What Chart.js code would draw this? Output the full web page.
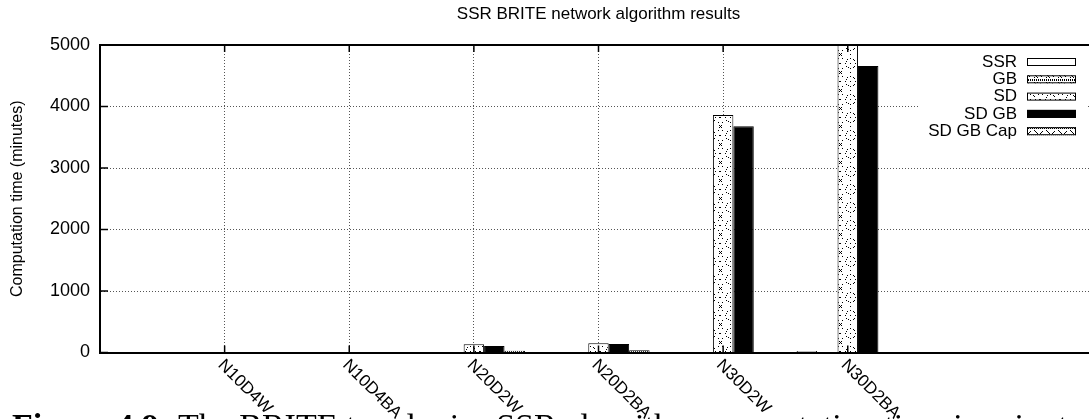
<!DOCTYPE html>
<html>
<head>
<meta charset="utf-8">
<script src="https://cdn.jsdelivr.net/npm/chart.js@4"></script>
<style>
  body { margin: 0; overflow: hidden; background: #fff; width: 1089px; height: 419px; }
  #wrap { position: relative; width: 1100px; height: 419px; }
  #caption {
    position: absolute; left: 12px; top: 409px;
    font-family: "Liberation Serif", serif; font-size: 34px; line-height: 1;
    white-space: nowrap; color: #000;
  }
</style>
</head>
<body>
<div id="wrap">
  <canvas id="graficoBrite" width="1100" height="419"></canvas>
  <div id="caption"><b>Figure 4.9:</b> The BRITE topologies SSR algorithm computation time in minutes.</div>
</div>
<script>
const titulo = "SSR BRITE network algorithm results";
const tituloY = "Computation time (minutes)";
const categorias = ["N10D4W", "N10D4BA", "N20D2W", "N20D2BA", "N30D2W", "N30D2BA"];
const nomesSeries = ["SSR", "GB", "SD", "SD GB", "SD GB Cap"];

const ssr = [0, 0, 0, 0, 0, 25];
const gb = [0, 0, 0, 0, 0, 0];
const sd = [0, 0, 135, 150, 3860, 5000];
const sdGb = [0, 0, 105, 140, 3680, 4660];
const sdGbCap = [0, 0, 30, 35, 0, 0];

const ticksY = [0, 1000, 2000, 3000, 4000, 5000];

// padrões de preenchimento no estilo do gnuplot
function criarPadrao(tipo) {
  if (tipo === "solido") return "#000";
  if (tipo === "branco") return "#fff";
  const c = document.createElement("canvas");
  const g = c.getContext("2d");
  let pontos = [];
  if (tipo === "gb") {
    c.width = 12; c.height = 8;
    for (let i = 0; i < 6; i++) { pontos.push([i * 2, 0]); pontos.push([i * 2, 7]); }
    pontos.push([2, 2], [3, 3], [4, 4], [5, 5], [5, 2], [2, 5], [8, 3], [9, 4]);
  } else if (tipo === "sd") {
    c.width = 20; c.height = 18;
    for (let k = 0; k < 12; k++) {
      const ang = (k / 12) * Math.PI * 2;
      pontos.push([Math.round(10 + 5 * Math.cos(ang)), Math.round(9 + 5 * Math.sin(ang))]);
    }
    pontos.push([10, 9], [0, 0], [1, 1], [19, 1], [1, 17], [19, 17], [0, 9], [19, 9], [10, 0], [2, 4], [18, 4], [2, 14], [18, 14]);
  } else if (tipo === "cap") {
    c.width = 12; c.height = 8;
    for (let i = 0; i < 6; i++) { pontos.push([i * 2, 0]); pontos.push([i * 2 + 1, 7]); }
    pontos.push([2, 2], [3, 3], [4, 4], [5, 5], [8, 5], [9, 4], [10, 3]);
  }
  g.fillStyle = "#fff";
  g.fillRect(0, 0, c.width, c.height);
  g.fillStyle = "#000";
  pontos.forEach(([px, py]) => g.fillRect(px, py, 1, 1));
  return g.createPattern(c, "repeat");
}

const preenchimentos = [criarPadrao("branco"), criarPadrao("gb"), criarPadrao("sd"), criarPadrao("solido"), criarPadrao("cap")];

// categorias vazias nas pontas para deixar a mesma margem do gráfico original
const rotulos = ["", ...categorias, "", ""];
function comMargem(valores) {
  return [null, ...valores, null, null];
}

const series = [ssr, gb, sd, sdGb, sdGbCap];
const fonte = '"Liberation Sans", Arial, sans-serif';

const moldura = {
  id: "moldura",
  afterDatasetsDraw(chart) {
    const { ctx, chartArea: a, scales: { x, y } } = chart;
    const linha = (x1, y1, x2, y2) => { ctx.beginPath(); ctx.moveTo(x1, y1); ctx.lineTo(x2, y2); ctx.stroke(); };
    ctx.save();
    ctx.strokeStyle = "#000";
    ctx.lineWidth = 2;
    ctx.beginPath();
    ctx.moveTo(a.left, a.top);
    ctx.lineTo(a.right, a.top);
    ctx.lineTo(a.right, a.bottom);
    ctx.stroke();

    ctx.lineWidth = 1.5;
    ticksY.forEach((v) => {
      const py = y.getPixelForValue(v);
      linha(a.left, py, a.left + 8, py);
      linha(a.right, py, a.right - 8, py);
    });
    categorias.forEach((c, i) => {
      const px = x.getPixelForValue(i + 1);
      linha(px, a.top, px, a.top + 7);
      linha(px, a.bottom, px, a.bottom - 7);
    });

    // rótulos do eixo x inclinados para baixo
    ctx.fillStyle = "#000";
    ctx.font = "17px " + fonte;
    ctx.textAlign = "left";
    ctx.textBaseline = "middle";
    categorias.forEach((c, i) => {
      const px = x.getPixelForValue(i + 1);
      ctx.save();
      ctx.translate(px - 4, a.bottom + 10);
      ctx.rotate(Math.PI / 4);
      ctx.fillText(c, 0, 0);
      ctx.restore();
    });

    // título
    ctx.font = "17px " + fonte;
    ctx.textAlign = "center";
    ctx.fillText(titulo, (a.left + a.right) / 2, 14);

    // legenda
    ctx.fillStyle = "#fff";
    ctx.fillRect(918, 52, 170, 88);
    ctx.font = "17px " + fonte;
    ctx.textAlign = "right";
    nomesSeries.forEach((nome, i) => {
      const ly = 62 + i * 17.3;
      ctx.fillStyle = "#000";
      ctx.fillText(nome, 1017, ly);
      ctx.fillStyle = preenchimentos[i];
      ctx.fillRect(1027, ly - 4, 49, 8);
      ctx.lineWidth = 1;
      ctx.strokeStyle = "#000";
      ctx.strokeRect(1027.5, ly - 3.5, 48, 7);
    });
    ctx.restore();
  }
};

const grafico = new Chart(document.getElementById("graficoBrite"), {
  type: "bar",
  data: {
    labels: rotulos,
    datasets: series.map((valores, i) => ({
      label: nomesSeries[i],
      data: comMargem(valores),
      backgroundColor: preenchimentos[i],
      borderColor: "#000",
      borderWidth: 1,
      borderSkipped: "start",
    })),
  },
  options: {
    responsive: false,
    animation: false,
    events: [],
    layout: { padding: { top: 45, bottom: 66.5, left: 0, right: 3 } },
    plugins: { legend: { display: false }, title: { display: false }, tooltip: { enabled: false } },
    datasets: { bar: { categoryPercentage: 0.82, barPercentage: 1 } },
    scales: {
      x: {
        offset: false,
        ticks: { display: false },
        grid: {
          offset: false,
          drawTicks: false,
          color: (ctx) => (ctx.tick && rotulos[ctx.index] ? "#555" : "transparent"),
          lineWidth: 1,
        },
        border: { display: true, color: "#000", width: 2, dash: [1, 2] },
        afterFit: (s) => { s.height = 0; },
      },
      y: {
        min: 0,
        max: 5000,
        ticks: {
          stepSize: 1000,
          padding: 10,
          color: "#000",
          font: { family: fonte, size: 18 },
          callback: (v) => String(v),
        },
        grid: {
          drawTicks: false,
          color: (ctx) => (ctx.tick && ctx.tick.value > 0 && ctx.tick.value < 5000 ? "#555" : "transparent"),
          lineWidth: 1,
        },
        border: { display: true, color: "#000", width: 2, dash: [1, 2] },
        title: { display: true, text: tituloY, color: "#000", font: { family: fonte, size: 16 }, padding: { top: 8, bottom: 0 } },
        afterFit: (s) => { s.width = 100; },
      },
    },
  },
  plugins: [moldura],
});
</script>
</body>
</html>
